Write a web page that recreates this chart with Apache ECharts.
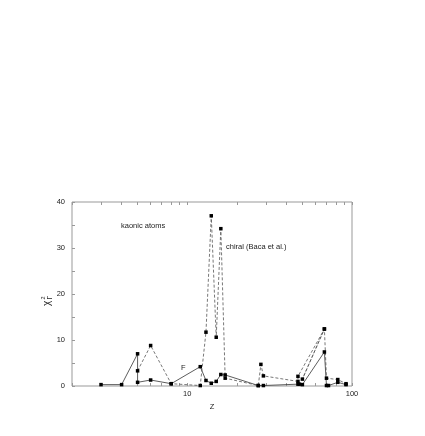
<!DOCTYPE html>
<html>
<head>
<meta charset="utf-8">
<script src="https://cdn.jsdelivr.net/npm/echarts@6/dist/echarts.min.js"></script>
<style>
  html, body { margin: 0; padding: 0; background: #fff; }
  #chart { width: 425px; height: 436px; }
</style>
</head>
<body>
<div id="chart"></div>
<script>
// chi^2_Gamma per nucleus, [Z, value]
var fitF = [[3, 0.3], [4, 0.3], [5, 7.0], [5, 0.8], [6, 1.3], [8, 0.5], [12, 4.2], [13, 1.2], [14, 0.6],
  [15, 1.0], [16, 2.5], [17, 2.4], [27, 0.1], [29, 0.1], [47, 0.4], [48, 0.4], [50, 0.3], [68, 7.4],
  [70, 0.1], [72, 0.1], [82, 0.8], [92, 0.3]];
var chiralBaca = [[5, 3.3], [6, 8.8], [8, 0.5], [12, 0.1], [13, 11.7], [14, 37.0], [15, 10.6], [16, 34.2],
  [17, 1.7], [27, 0.1], [28, 4.7], [29, 2.2], [47, 1.0], [47, 2.1], [68, 12.4], [50, 1.5], [68, 12.4],
  [70, 1.7], [82, 1.4], [92, 0.5]];
var xTickValues = [2, 3, 4, 5, 6, 7, 8, 9, 10, 20, 30, 40, 50, 60, 70, 80, 90, 100];
var xLabelValues = [10, 100];
var yMax = 40;
var yTickStep = 5;
var yLabelStep = 10;

var font = 'Liberation Sans, Arial, sans-serif';

var chart = echarts.init(document.getElementById('chart'));

function xAx(pos, labels) {
  var ax = {
    type: 'log', logBase: 10, min: 2, max: 100, position: pos,
    axisLine: { show: false },
    axisTick: { inside: true, length: 3, customValues: xTickValues, lineStyle: { color: '#999' } },
    axisLabel: { show: false },
    splitLine: { show: false }
  };
  if (labels) {
    ax.axisLabel = { customValues: xLabelValues, fontSize: 7.5, color: '#222', fontFamily: font, margin: 4 };
    ax.name = 'Z';
    ax.nameLocation = 'middle';
    ax.nameGap = 17;
    ax.nameTextStyle = { fontSize: 7.5, color: '#222', fontFamily: font };
  }
  return ax;
}

chart.setOption({
  animation: false,
  grid: { left: 72, right: 73, top: 202, bottom: 50, show: true, borderColor: '#999', borderWidth: 1 },
  xAxis: [xAx('bottom', true), xAx('top', false)],
  yAxis: {
    type: 'value', min: 0, max: yMax, interval: yTickStep,
    axisLine: { show: false },
    axisTick: { inside: true, length: 3, lineStyle: { color: '#999' } },
    axisLabel: {
      fontSize: 7.5, color: '#222', fontFamily: font, margin: 7,
      formatter: function (v) { return v % yLabelStep === 0 ? String(v) : ''; }
    },
    splitLine: { show: false }
  },
  series: [
    {
      name: 'F', type: 'line', data: fitF,
      symbol: 'rect', symbolSize: 3.5,
      lineStyle: { color: '#333', width: 0.8 },
      itemStyle: { color: '#000' }
    },
    {
      name: 'chiral (Baca et al.)', type: 'line', data: chiralBaca,
      symbol: 'rect', symbolSize: 3.5,
      lineStyle: { color: '#555', width: 0.8, type: [3, 2] },
      itemStyle: { color: '#000' }
    }
  ],
  graphic: [
    { type: 'text', left: 121, top: 222, style: { text: 'kaonic atoms', fontSize: 7.5, fill: '#222', fontFamily: font } },
    { type: 'text', left: 226, top: 243, style: { text: 'chiral (Baca et al.)', fontSize: 7.5, fill: '#222', fontFamily: font } },
    { type: 'text', left: 181, top: 364, style: { text: 'F', fontSize: 7.5, fill: '#222', fontFamily: font } },
    {
      type: 'group', x: 47, y: 306, rotation: Math.PI / 2,
      children: [
        { type: 'text', x: 0, y: 0, style: { text: 'χ', fontSize: 10, fill: '#222', fontFamily: font, textVerticalAlign: 'middle' } },
        { type: 'text', x: 6.5, y: -3.5, style: { text: '2', fontSize: 5.5, fill: '#222', fontFamily: font, textVerticalAlign: 'middle' } },
        { type: 'text', x: 6.5, y: 3, style: { text: 'Γ', fontSize: 6.5, fill: '#222', fontFamily: font, textVerticalAlign: 'middle' } }
      ]
    }
  ]
});
</script>
</body>
</html>
